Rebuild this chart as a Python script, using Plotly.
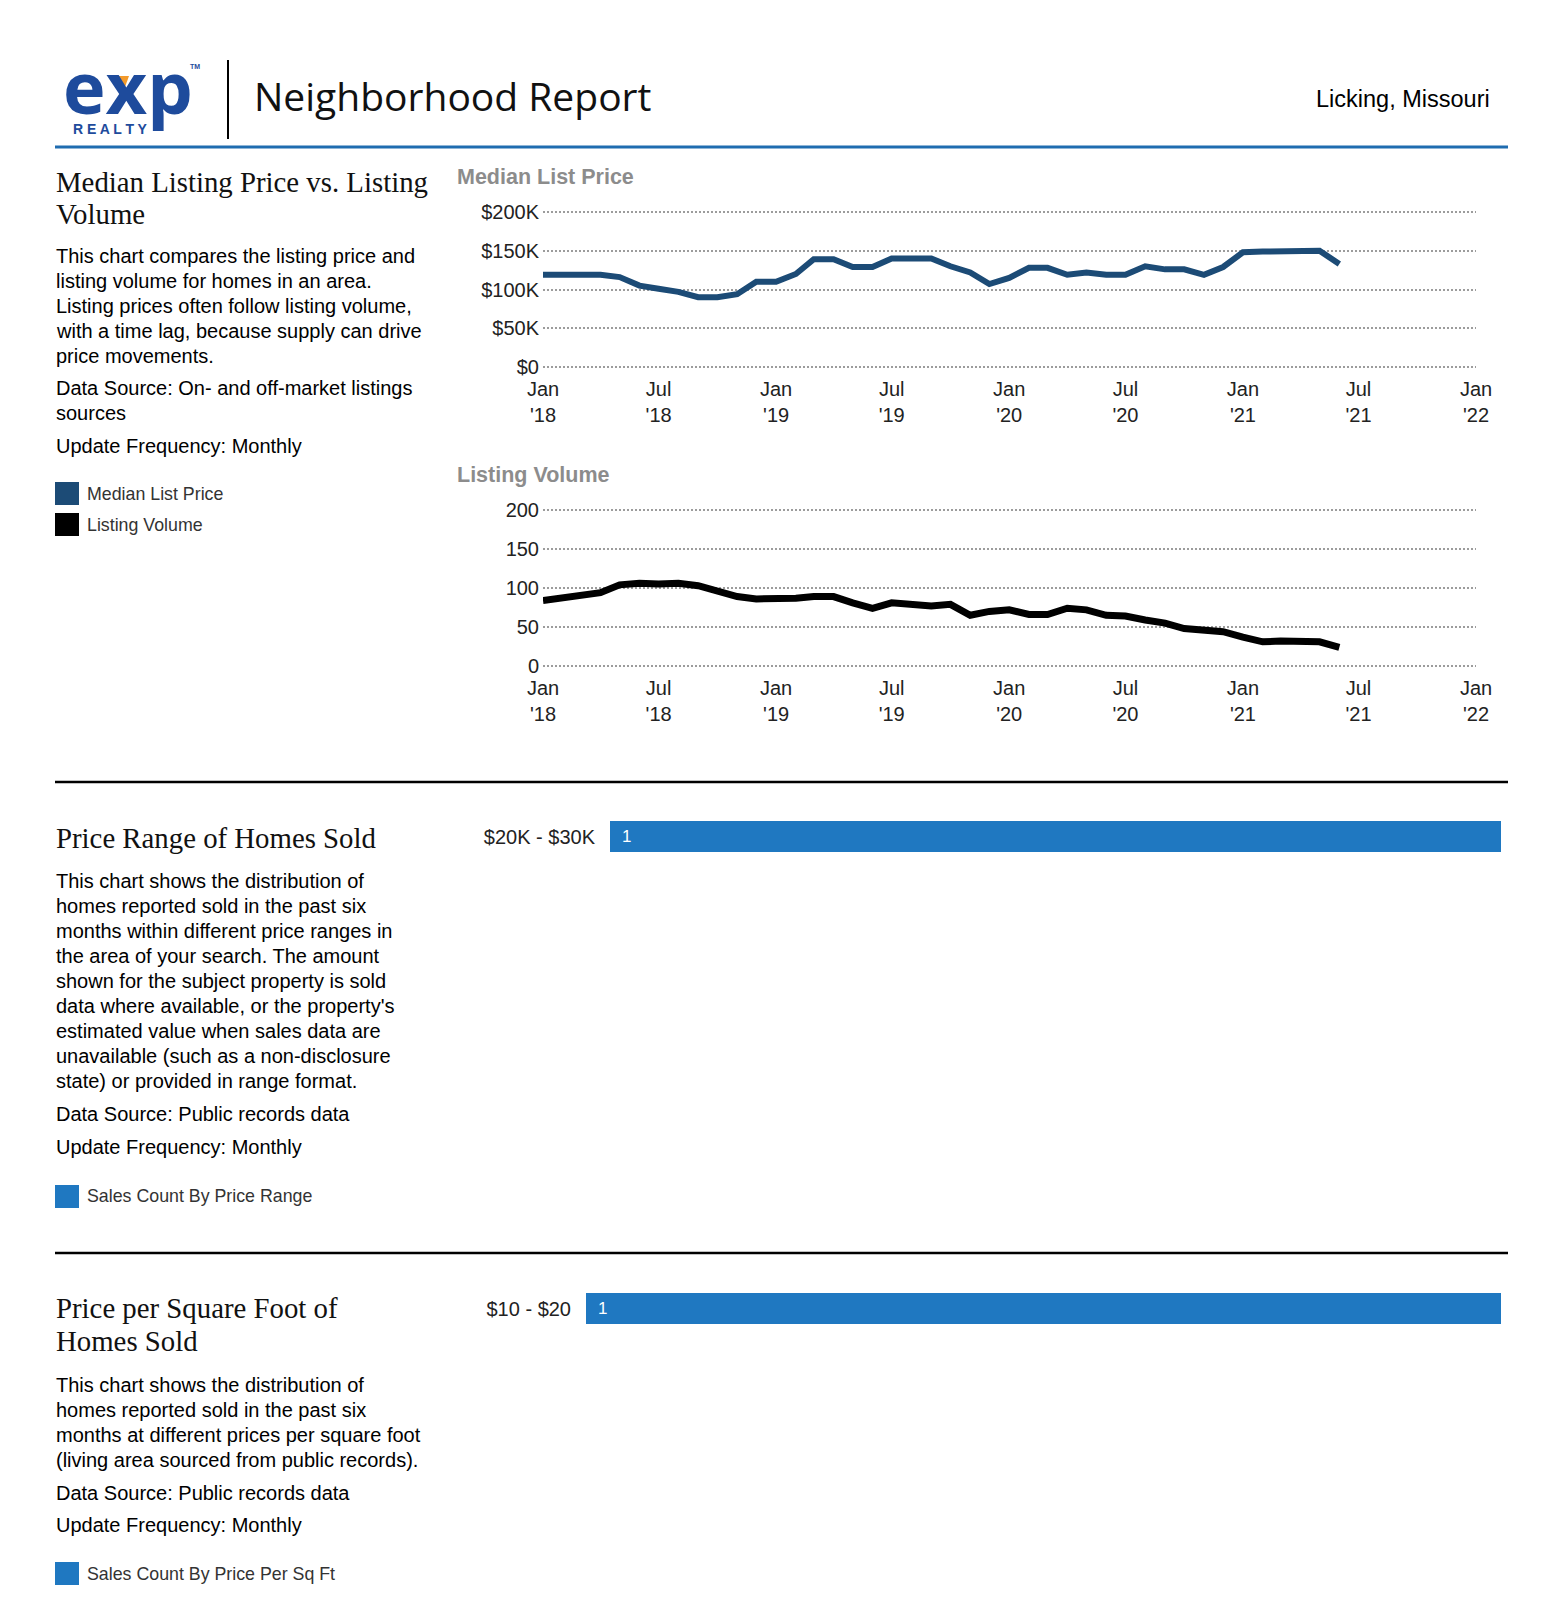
import plotly.graph_objects as go

W, H = 1564, 1614

# ---------------- data ----------------
months = [
    "2018-01-01", "2018-02-01", "2018-03-01", "2018-04-01", "2018-05-01", "2018-06-01",
    "2018-07-01", "2018-08-01", "2018-09-01", "2018-10-01", "2018-11-01", "2018-12-01",
    "2019-01-01", "2019-02-01", "2019-03-01", "2019-04-01", "2019-05-01", "2019-06-01",
    "2019-07-01", "2019-08-01", "2019-09-01", "2019-10-01", "2019-11-01", "2019-12-01",
    "2020-01-01", "2020-02-01", "2020-03-01", "2020-04-01", "2020-05-01", "2020-06-01",
    "2020-07-01", "2020-08-01", "2020-09-01", "2020-10-01", "2020-11-01", "2020-12-01",
    "2021-01-01", "2021-02-01", "2021-03-01", "2021-04-01", "2021-05-01", "2021-06-01",
]
median_list_price = [
    119000, 119000, 120000, 119000, 116000, 105000,
    101000, 97000, 90000, 90000, 94000, 110000,
    110000, 120000, 139000, 139000, 129000, 129000,
    140000, 140000, 140000, 130000, 122000, 107000,
    115000, 128000, 128000, 119000, 122000, 119000,
    119000, 130000, 126000, 126000, 119000, 129000,
    148000, 149000, 149000, 150000, 150000, 133000,
]
listing_volume = [
    84, 87, 89, 94, 104, 106,
    105, 106, 103, 96, 89, 86,
    86, 87, 89, 89, 81, 74,
    81, 79, 77, 79, 65, 70,
    72, 66, 66, 74, 72, 65,
    64, 59, 55, 48, 46, 44,
    37, 31, 32, 31, 31, 24,
]

x_tick_vals = ["2018-01-01", "2018-07-01", "2019-01-01", "2019-07-01", "2020-01-01",
               "2020-07-01", "2021-01-01", "2021-07-01", "2022-01-01"]
x_tick_text = ["Jan<br>'18", "Jul<br>'18", "Jan<br>'19", "Jul<br>'19", "Jan<br>'20",
               "Jul<br>'20", "Jan<br>'21", "Jul<br>'21", "Jan<br>'22"]
price_ticks = [0, 50000, 100000, 150000, 200000]
price_tick_text = ["$0", "$50K", "$100K", "$150K", "$200K"]
volume_ticks = [0, 50, 100, 150, 200]
volume_tick_text = ["0", "50", "100", "150", "200"]

price_range_labels = ["$20K - $30K"]
price_range_counts = [1]
sqft_labels = ["$10 - $20"]
sqft_counts = [1]

# ---------------- styling ----------------
PRICE_COLOR = "#1c4b76"
VOLUME_COLOR = "#000000"
BAR_COLOR = "#1f78c1"
HEADER_BLUE = "#1f6cb0"
LOGO_BLUE = "#1e4b9c"
SANS = "Liberation Sans, Arial, sans-serif"
SERIF = "Liberation Serif, Times New Roman, serif"


def fx(px):
    return px / W


def fy(py):
    return 1 - py / H


PAD = 0.03  # range padding so the edge gridlines are drawn


def ydomain(bottom_px, top_px):
    span = bottom_px - top_px
    return [fy(bottom_px + PAD * span), fy(top_px - PAD * span)]


def yrange(lo, hi):
    d = hi - lo
    return [lo - PAD * d, hi + PAD * d]


fig = go.Figure()

fig.add_trace(go.Scatter(x=months, y=median_list_price, mode="lines",
                         line=dict(color=PRICE_COLOR, width=6),
                         xaxis="x", yaxis="y", hoverinfo="skip", showlegend=False))
fig.add_trace(go.Scatter(x=months, y=listing_volume, mode="lines",
                         line=dict(color=VOLUME_COLOR, width=7),
                         xaxis="x2", yaxis="y2", hoverinfo="skip", showlegend=False))
fig.add_trace(go.Bar(x=price_range_counts, y=price_range_labels, orientation="h",
                     marker=dict(color=BAR_COLOR, line=dict(width=0)),
                     xaxis="x3", yaxis="y3", hoverinfo="skip", showlegend=False))
fig.add_trace(go.Bar(x=sqft_counts, y=sqft_labels, orientation="h",
                     marker=dict(color=BAR_COLOR, line=dict(width=0)),
                     xaxis="x4", yaxis="y4", hoverinfo="skip", showlegend=False))

tickfont = dict(family=SANS, size=20, color="#222222")
grid = dict(showgrid=True, gridcolor="#9c9c9c", gridwidth=2, griddash="2px,2px",
            zeroline=False, showline=False, ticks="", tickfont=tickfont, fixedrange=True,
            automargin=False)
xcommon = dict(type="date", range=["2018-01-01", "2022-01-01"], tickvals=x_tick_vals,
               ticktext=x_tick_text, showgrid=False, zeroline=False, showline=False,
               ticks="", tickfont=tickfont, fixedrange=True, ticklabelstandoff=3,
               automargin=False)

fig.update_layout(
    width=W, height=H, autosize=False,
    margin=dict(l=0, r=0, t=0, b=0, pad=0, autoexpand=False),
    paper_bgcolor="white", plot_bgcolor="white",
    bargap=0, showlegend=False,
    xaxis=dict(domain=[fx(543), fx(1476)], anchor="y", **xcommon),
    yaxis=dict(domain=ydomain(367, 212), anchor="x", range=yrange(0, 200000),
               tickvals=price_ticks, ticktext=price_tick_text, ticklabelstandoff=3, **grid),
    xaxis2=dict(domain=[fx(543), fx(1476)], anchor="y2", **xcommon),
    yaxis2=dict(domain=ydomain(666, 510), anchor="x2", range=yrange(0, 200),
                tickvals=volume_ticks, ticktext=volume_tick_text, ticklabelstandoff=3, **grid),
    xaxis3=dict(domain=[fx(610), fx(1501)], anchor="y3", range=[0, max(price_range_counts)],
                visible=False, fixedrange=True, automargin=False),
    yaxis3=dict(domain=[fy(852), fy(821)], anchor="x3", type="category", ticks="",
                showgrid=False, zeroline=False, showline=False, tickfont=tickfont,
                ticklabelstandoff=14, fixedrange=True, automargin=False),
    xaxis4=dict(domain=[fx(586), fx(1501)], anchor="y4", range=[0, max(sqft_counts)],
                visible=False, fixedrange=True, automargin=False),
    yaxis4=dict(domain=[fy(1324), fy(1293)], anchor="x4", type="category", ticks="",
                showgrid=False, zeroline=False, showline=False, tickfont=tickfont,
                ticklabelstandoff=14, fixedrange=True, automargin=False),
)

ann = []
shapes = []


def text(x, y, s, size, color="#000000", family=SANS, anchor="left", weight="normal"):
    ann.append(dict(x=fx(x), y=fy(y), xref="paper", yref="paper", text=s, showarrow=False,
                    xanchor=anchor, yanchor="middle",
                    font=dict(family=family, size=size, color=color, weight=weight)))


# ---------- header ----------
text(128, 86, "exp", 72, LOGO_BLUE, "Open Sans, Liberation Sans", "center", "bold")
text(110, 129, "R E A L T Y", 14, LOGO_BLUE, SANS, "center", "bold")
text(195, 66, "TM", 7, LOGO_BLUE, SANS, "center", "bold")
shapes.append(dict(type="path", xref="paper", yref="paper",
                   path=f"M {fx(115)} {fy(76)} L {fx(129)} {fy(76)} L {fx(125)} {fy(87)} Z",
                   fillcolor="#f39a2b", line=dict(width=0)))
shapes.append(dict(type="line", xref="paper", yref="paper", x0=fx(228), x1=fx(228),
                   y0=fy(60), y1=fy(139), line=dict(color="#000000", width=2)))
text(252, 96, "Neighborhood Report", 39, "#111111", "Open Sans, Noto Sans, sans-serif")
text(1492, 99, "Licking, Missouri", 23.5, "#000000", SANS, "right")
shapes.append(dict(type="line", xref="paper", yref="paper", x0=fx(55), x1=fx(1508),
                   y0=fy(147), y1=fy(147), line=dict(color=HEADER_BLUE, width=3)))

# ---------- section 1 ----------
text(54, 182, "Median Listing Price vs. Listing", 28.8, "#111111", SERIF)
text(54, 214, "Volume", 28.8, "#111111", SERIF)
sec1_lines = [
    ("This chart compares the listing price and", 256),
    ("listing volume for homes in an area.", 281),
    ("Listing prices often follow listing volume,", 306),
    ("with a time lag, because supply can drive", 331),
    ("price movements.", 356),
    ("Data Source: On- and off-market listings", 388),
    ("sources", 413),
    ("Update Frequency: Monthly", 446),
]
for s, y in sec1_lines:
    text(54, y, s, 20)

shapes.append(dict(type="rect", xref="paper", yref="paper", x0=fx(55), x1=fx(79),
                   y0=fy(505), y1=fy(482), fillcolor=PRICE_COLOR, line=dict(width=0)))
text(85, 494, "Median List Price", 17.8, "#333333")
shapes.append(dict(type="rect", xref="paper", yref="paper", x0=fx(55), x1=fx(79),
                   y0=fy(536), y1=fy(513), fillcolor=VOLUME_COLOR, line=dict(width=0)))
text(85, 525, "Listing Volume", 17.8, "#333333")

text(455, 177, "Median List Price", 21.5, "#8c8c8c", SANS, "left", "bold")
text(455, 475, "Listing Volume", 21.5, "#8c8c8c", SANS, "left", "bold")

shapes.append(dict(type="line", xref="paper", yref="paper", x0=fx(55), x1=fx(1508),
                   y0=fy(782), y1=fy(782), line=dict(color="#000000", width=2.5)))

# ---------- section 2 ----------
text(54, 838, "Price Range of Homes Sold", 28.8, "#111111", SERIF)
sec2_lines = [
    ("This chart shows the distribution of", 881),
    ("homes reported sold in the past six", 906),
    ("months within different price ranges in", 931),
    ("the area of your search. The amount", 956),
    ("shown for the subject property is sold", 981),
    ("data where available, or the property's", 1006),
    ("estimated value when sales data are", 1031),
    ("unavailable (such as a non-disclosure", 1056),
    ("state) or provided in range format.", 1081),
    ("Data Source: Public records data", 1114),
    ("Update Frequency: Monthly", 1147),
]
for s, y in sec2_lines:
    text(54, y, s, 20)
shapes.append(dict(type="rect", xref="paper", yref="paper", x0=fx(55), x1=fx(79),
                   y0=fy(1208), y1=fy(1185), fillcolor=BAR_COLOR, line=dict(width=0)))
text(85, 1196, "Sales Count By Price Range", 17.8, "#333333")

for lab, cnt in zip(price_range_labels, price_range_counts):
    ann.append(dict(x=0, y=lab, xref="x3", yref="y3", text=str(cnt), showarrow=False,
                    xanchor="left", yanchor="middle", xshift=10,
                    font=dict(family=SANS, size=17, color="white")))

shapes.append(dict(type="line", xref="paper", yref="paper", x0=fx(55), x1=fx(1508),
                   y0=fy(1253), y1=fy(1253), line=dict(color="#000000", width=2.5)))

# ---------- section 3 ----------
text(54, 1308, "Price per Square Foot of", 28.8, "#111111", SERIF)
text(54, 1341, "Homes Sold", 28.8, "#111111", SERIF)
sec3_lines = [
    ("This chart shows the distribution of", 1385),
    ("homes reported sold in the past six", 1410),
    ("months at different prices per square foot", 1435),
    ("(living area sourced from public records).", 1460),
    ("Data Source: Public records data", 1493),
    ("Update Frequency: Monthly", 1525),
]
for s, y in sec3_lines:
    text(54, y, s, 20)
shapes.append(dict(type="rect", xref="paper", yref="paper", x0=fx(55), x1=fx(79),
                   y0=fy(1585), y1=fy(1562), fillcolor=BAR_COLOR, line=dict(width=0)))
text(85, 1574, "Sales Count By Price Per Sq Ft", 17.8, "#333333")

for lab, cnt in zip(sqft_labels, sqft_counts):
    ann.append(dict(x=0, y=lab, xref="x4", yref="y4", text=str(cnt), showarrow=False,
                    xanchor="left", yanchor="middle", xshift=10,
                    font=dict(family=SANS, size=17, color="white")))

fig.update_layout(annotations=ann, shapes=shapes)

fig.write_html("out.html", config={"displayModeBar": False},
               post_script="document.body.style.margin='0';")
